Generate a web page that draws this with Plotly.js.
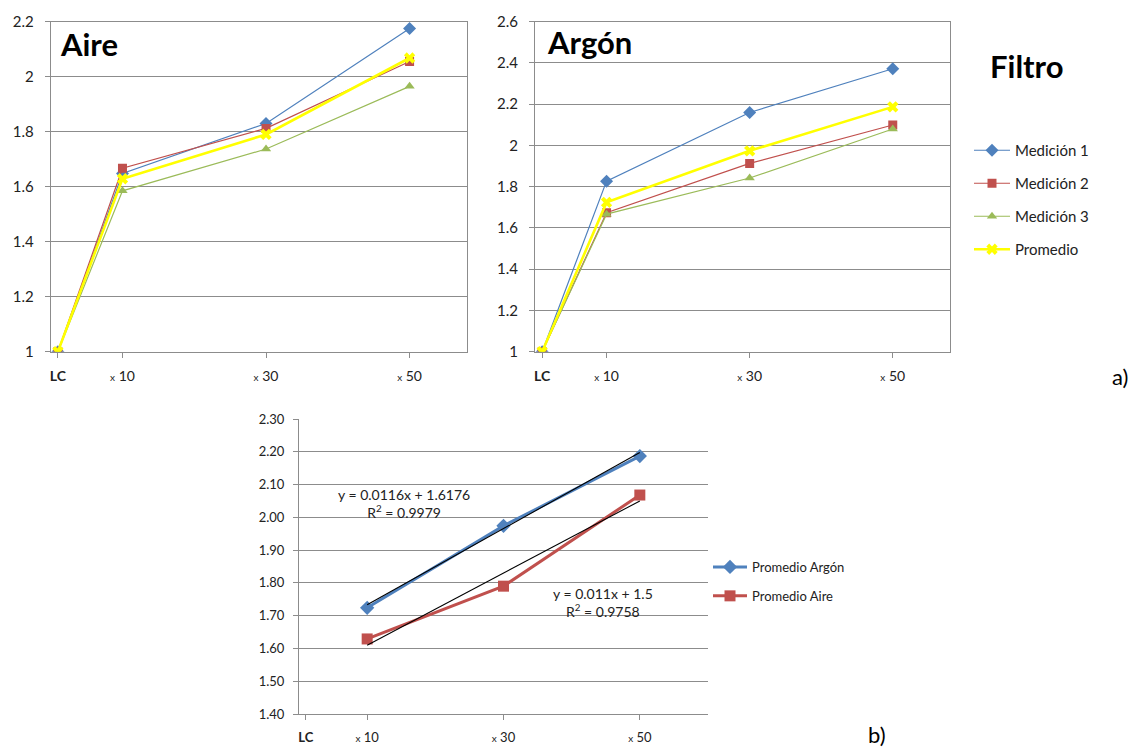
<!DOCTYPE html>
<html>
<head>
<meta charset="utf-8">
<script src="https://cdn.plot.ly/plotly-3.0.1.min.js"></script>
<style>html,body{margin:0;padding:0;background:#fff;}#chart{width:1133px;height:748px;}</style>
</head>
<body>
<div id="chart"></div>
<script>
// ---- data ----
var xVals = [1, 10, 30, 50];
var xLabels = ["LC", "x 10", "x 30", "x 50"];
var seriesNames = ["Medición 1", "Medición 2", "Medición 3", "Promedio"];

var aireM1 = [1, 1.648, 1.830, 2.175];
var aireM2 = [1, 1.667, 1.812, 2.055];
var aireM3 = [1, 1.585, 1.737, 1.965];
var airePro = [1, 1.629, 1.790, 2.068];

var argonM1 = [1, 1.827, 2.160, 2.372];
var argonM2 = [1, 1.674, 1.913, 2.099];
var argonM3 = [1, 1.667, 1.842, 2.080];
var argonPro = [1, 1.724, 1.974, 2.187];

var bottomX = [10, 30, 50];
var bottomNames = ["Promedio Argón", "Promedio Aire"];
var trendSlopes = [0.0116, 0.011];
var trendIntercepts = [1.6176, 1.5];
var trendR2 = ["0.9979", "0.9758"];
var bottomYTicks = [1.40, 1.50, 1.60, 1.70, 1.80, 1.90, 2.00, 2.10, 2.20, 2.30];

// ---- styles ----
var FONT = "Lato, 'Open Sans', sans-serif";
var C_BLUE = "#4F81BD", C_RED = "#C0504D", C_GREEN = "#9BBB59", C_YEL = "#FFFF00";
var GRID = "#8c8c8c";
var W = 1133, H = 748;
function px(x){ return x / W; }
function py(y){ return 1 - y / H; }

function fmtLabel(t){
  if (t === "LC") return "<b>LC</b>";
  var parts = t.split(" ");
  return "<span style='font-size:10px'>" + parts[0] + "</span> " + parts[1];
}
var tickText = xLabels.map(fmtLabel);
var bottomTickVals = [1].concat(bottomX);
var bottomTickText = [fmtLabel("LC")].concat(bottomX.map(function(v){ return fmtLabel("x " + v); }));

var styles = [
  {color: C_BLUE, symbol: "diamond", size: 10, width: 1.2},
  {color: C_RED, symbol: "square", size: 9, width: 1.2},
  {color: C_GREEN, symbol: "triangle-up", size: 9, width: 1.2},
  {color: C_YEL, symbol: "x", size: 10, width: 2.6}
];

var traces = [];
var aireSets = [aireM1, aireM2, aireM3, airePro];
var argonSets = [argonM1, argonM2, argonM3, argonPro];
aireSets.forEach(function(ys, i){
  var s = styles[i];
  traces.push({x: xVals, y: ys, xaxis: "x", yaxis: "y", mode: "lines+markers", name: seriesNames[i],
    legend: "legend", legendgroup: "g" + i, showlegend: true,
    line: {color: s.color, width: s.width}, marker: {color: s.color, symbol: s.symbol, size: s.size}});
});
argonSets.forEach(function(ys, i){
  var s = styles[i];
  traces.push({x: xVals, y: ys, xaxis: "x2", yaxis: "y2", mode: "lines+markers", name: seriesNames[i],
    legendgroup: "g" + i, showlegend: false,
    line: {color: s.color, width: s.width}, marker: {color: s.color, symbol: s.symbol, size: s.size}});
});

// bottom chart
var bottomSets = [argonPro.slice(1), airePro.slice(1)];
var bottomStyles = [
  {color: C_BLUE, symbol: "diamond", size: 11},
  {color: C_RED, symbol: "square", size: 11}
];
bottomSets.forEach(function(ys, i){
  var s = bottomStyles[i];
  traces.push({x: bottomX, y: ys, xaxis: "x3", yaxis: "y3", mode: "lines+markers", name: bottomNames[i],
    legend: "legend2", legendgroup: "b" + i, showlegend: true,
    line: {color: s.color, width: 3}, marker: {color: s.color, symbol: s.symbol, size: s.size}});
});
trendSlopes.forEach(function(a, i){
  var b = trendIntercepts[i];
  var tx = [bottomX[0], bottomX[bottomX.length - 1]];
  traces.push({x: tx, y: tx.map(function(v){ return a * v + b; }), xaxis: "x3", yaxis: "y3", mode: "lines",
    showlegend: false, hoverinfo: "skip", line: {color: "#000", width: 1.1}});
});

function topX(domain, anchor){
  return {domain: domain, anchor: anchor, range: [0, 58], tickmode: "array", tickvals: xVals, ticktext: tickText,
    showgrid: false, zeroline: false, showline: true, linecolor: GRID, linewidth: 1, mirror: true,
    ticks: "outside", ticklen: 5, tickcolor: GRID, ticklabelstandoff: 6,
    tickfont: {family: FONT, size: 14, color: "#222"}, fixedrange: true};
}
function topY(domain, anchor, range, dtick){
  return {domain: domain, anchor: anchor, range: range, dtick: dtick, tick0: 1,
    showgrid: true, gridcolor: GRID, gridwidth: 1, zeroline: false, showline: true, linecolor: GRID,
    linewidth: 1, mirror: true, ticks: "outside", ticklen: 5, tickcolor: GRID, ticklabelstandoff: 8,
    tickfont: {family: FONT, size: 15, color: "#222"}, fixedrange: true};
}

var yTop = [py(351.7), py(21.7)];
var layout = {
  width: W, height: H, margin: {l: 0, r: 0, t: 0, b: 0},
  paper_bgcolor: "#fff", plot_bgcolor: "#fff", font: {family: FONT},
  xaxis: topX([px(50.7), px(467)], "y"),
  yaxis: topY(yTop, "x", [1, 2.2], 0.2),
  xaxis2: topX([px(535), px(950)], "y2"),
  yaxis2: topY(yTop, "x2", [1, 2.6], 0.2),
  xaxis3: {domain: [px(299), px(708)], anchor: "y3", range: [0, 60], tickmode: "array", tickvals: bottomTickVals,
    ticktext: bottomTickText, showgrid: false, zeroline: false, showline: true, linecolor: GRID,
    ticks: "outside", ticklen: 5, tickcolor: GRID, ticklabelstandoff: 6,
    tickfont: {family: FONT, size: 13, color: "#222"}, fixedrange: true},
  yaxis3: {domain: [py(714), py(419)], anchor: "x3", range: [1.40, 2.30], tickmode: "array", tickvals: bottomYTicks,
    tickformat: ".2f", showgrid: true, gridcolor: GRID, zeroline: false, showline: true, linecolor: GRID,
    ticks: "outside", ticklen: 5, tickcolor: GRID, ticklabelstandoff: 6,
    tickfont: {family: FONT, size: 13, color: "#222"}, fixedrange: true},
  showlegend: true,
  legend: {x: px(969), y: py(134), xanchor: "left", yanchor: "top", bgcolor: "rgba(0,0,0,0)",
    font: {family: FONT, size: 15, color: "#222"}, traceorder: "grouped", tracegroupgap: 10.5,
    itemwidth: 36, itemclick: false, itemdoubleclick: false},
  legend2: {x: px(708), y: py(552), xanchor: "left", yanchor: "top", bgcolor: "rgba(0,0,0,0)",
    font: {family: FONT, size: 13, color: "#222"}, traceorder: "grouped", tracegroupgap: 9,
    itemwidth: 34, itemclick: false, itemdoubleclick: false},
  annotations: [
    {text: "<b>Aire</b>", x: px(58), y: py(44), xref: "paper", yref: "paper", xanchor: "left", yanchor: "middle",
      showarrow: false, font: {family: FONT, size: 31, color: "#000"}},
    {text: "<b>Argón</b>", x: px(545), y: py(42), xref: "paper", yref: "paper", xanchor: "left", yanchor: "middle",
      showarrow: false, font: {family: FONT, size: 31, color: "#000"}},
    {text: "<b>Filtro</b>", x: px(988), y: py(66), xref: "paper", yref: "paper", xanchor: "left", yanchor: "middle",
      showarrow: false, font: {family: FONT, size: 31, color: "#000"}},
    {text: "a)", x: px(1120), y: py(376), xref: "paper", yref: "paper", xanchor: "center", yanchor: "middle",
      showarrow: false, font: {family: FONT, size: 22, color: "#000"}},
    {text: "b)", x: px(877), y: py(734), xref: "paper", yref: "paper", xanchor: "center", yanchor: "middle",
      showarrow: false, font: {family: FONT, size: 22, color: "#000"}},
    {text: "y = " + trendSlopes[0] + "x + " + trendIntercepts[0] + "<br>R<sup>2</sup> = " + trendR2[0],
      x: px(404), y: py(503), xref: "paper", yref: "paper", xanchor: "center", yanchor: "middle", align: "center",
      showarrow: false, font: {family: FONT, size: 14, color: "#222"}},
    {text: "y = " + trendSlopes[1] + "x + " + trendIntercepts[1] + "<br>R<sup>2</sup> = " + trendR2[1],
      x: px(603), y: py(602), xref: "paper", yref: "paper", xanchor: "center", yanchor: "middle", align: "center",
      showarrow: false, font: {family: FONT, size: 14, color: "#222"}}
  ]
};

Plotly.newPlot("chart", traces, layout, {displayModeBar: false, staticPlot: true});
</script>
</body>
</html>
